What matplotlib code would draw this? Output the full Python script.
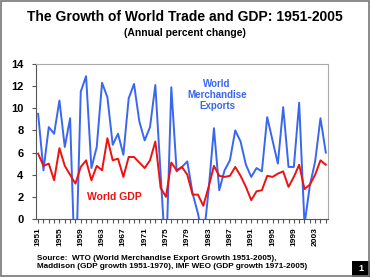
import matplotlib
matplotlib.use('Agg')
import matplotlib.pyplot as plt
from matplotlib.patches import Rectangle

plt.rcParams['font.family'] = ['Liberation Sans', 'DejaVu Sans']
plt.rcParams['font.weight'] = 'bold'

years = list(range(1951, 2006))

# crecimiento de las exportaciones mundiales (%)
exports = [9.5, 4.4, 8.3, 7.7, 10.7, 6.5, 9.1, -6.0, 11.5, 12.9,
           4.6, 6.5, 12.3, 11.0, 6.7, 7.7, 5.8, 10.9, 12.2, 8.8,
           7.1, 8.3, 12.1, 4.0, -4.0, 11.9, 4.3, 4.7, 5.2, 2.3,
           0.5, -2.0, 2.6, 8.2, 2.6, 4.4, 5.3, 8.0, 7.0, 4.9,
           3.8, 4.6, 4.3, 9.2, 7.1, 5.0, 10.1, 4.7, 4.7, 10.5,
           -0.5, 3.0, 5.2, 9.1, 6.0]

# crecimiento del PIB mundial (%)
gdp = [5.9, 4.8, 5.0, 3.5, 6.4, 4.8, 4.0, 3.2, 4.7, 5.3,
       3.5, 4.8, 4.4, 7.3, 5.3, 5.45, 3.8, 5.6, 5.6, 5.1,
       4.6, 5.3, 7.0, 2.8, 2.0, 5.1, 4.4, 4.7, 4.0, 2.2,
       2.2, 1.2, 2.9, 4.8, 3.9, 3.8, 3.9, 4.7, 3.9, 2.9,
       1.7, 2.5, 2.6, 3.9, 3.8, 4.1, 4.3, 2.9, 3.8, 4.9,
       2.7, 3.1, 4.0, 5.3, 4.9]

xticks = list(range(1951, 2004, 4))
yticks = list(range(0, 15, 2))

blue = '#3a66f0'
red = '#ee1111'

fig = plt.figure(figsize=(3.7, 2.77), dpi=100)
ax = fig.add_axes([0.0973, 0.2094, 0.789, 0.5596])

ax.plot(years, exports, color=blue, lw=1.4)
ax.plot(years, gdp, color=red, lw=1.4)

ax.set_xlim(1950.6, 2005.4)
ax.set_ylim(0, 14)
ax.set_yticks(yticks)
ax.set_xticks(xticks)
ax.set_xticks(years, minor=True)
ax.set_xticklabels([str(y) for y in xticks], rotation=90, fontsize=6,
                   fontweight='bold')
ax.set_yticklabels([str(v) for v in yticks], fontsize=8, fontweight='bold')
ax.tick_params(axis='y', length=3, width=0.8, color='#555555', pad=6)
ax.tick_params(axis='x', which='both', length=3, width=0.8, color='#555555',
               pad=3)

for s in ['left', 'bottom']:
    ax.spines[s].set_color('#555555')
for s in ['top', 'right']:
    ax.spines[s].set_color('#aaaaaa')

ax.text(1984.6, 11.2, 'World\nMerchandise\nExports', color=blue, fontsize=7,
        fontweight='bold', ha='center', va='center', linespacing=1.1)
ax.text(1965.4, 2.0, 'World GDP', color=red, fontsize=7.5, fontweight='bold',
        ha='center', va='center')

fig.text(0.5, 0.939, 'The Growth of World Trade and GDP: 1951-2005',
         ha='center', va='center', fontsize=10, fontweight='bold')
fig.text(0.5, 0.881, '(Annual percent change)', ha='center', va='center',
         fontsize=7.5, fontweight='bold')
fig.text(0.1, 0.053, 'Source:  WTO (World Merchandise Export Growth 1951-2005),\n'
         'Maddison (GDP growth 1951-1970), IMF WEO (GDP growth 1971-2005)',
         ha='left', va='center', fontsize=5.9, fontweight='bold',
         linespacing=1.3)

# recuadro con el número de página
fig.patches.append(Rectangle((0.951, 0.0), 0.049, 0.058, transform=fig.transFigure,
                             facecolor='black', edgecolor='none'))
fig.text(0.975, 0.029, '1', color='white', ha='center', va='center',
         fontsize=6.5, fontweight='bold')

# borde de la figura
fig.patches.append(Rectangle((0.002, 0.002), 0.996, 0.996, transform=fig.transFigure,
                             facecolor='none', edgecolor='#777777', lw=1.2))

fig.savefig('out.png', dpi=100)
